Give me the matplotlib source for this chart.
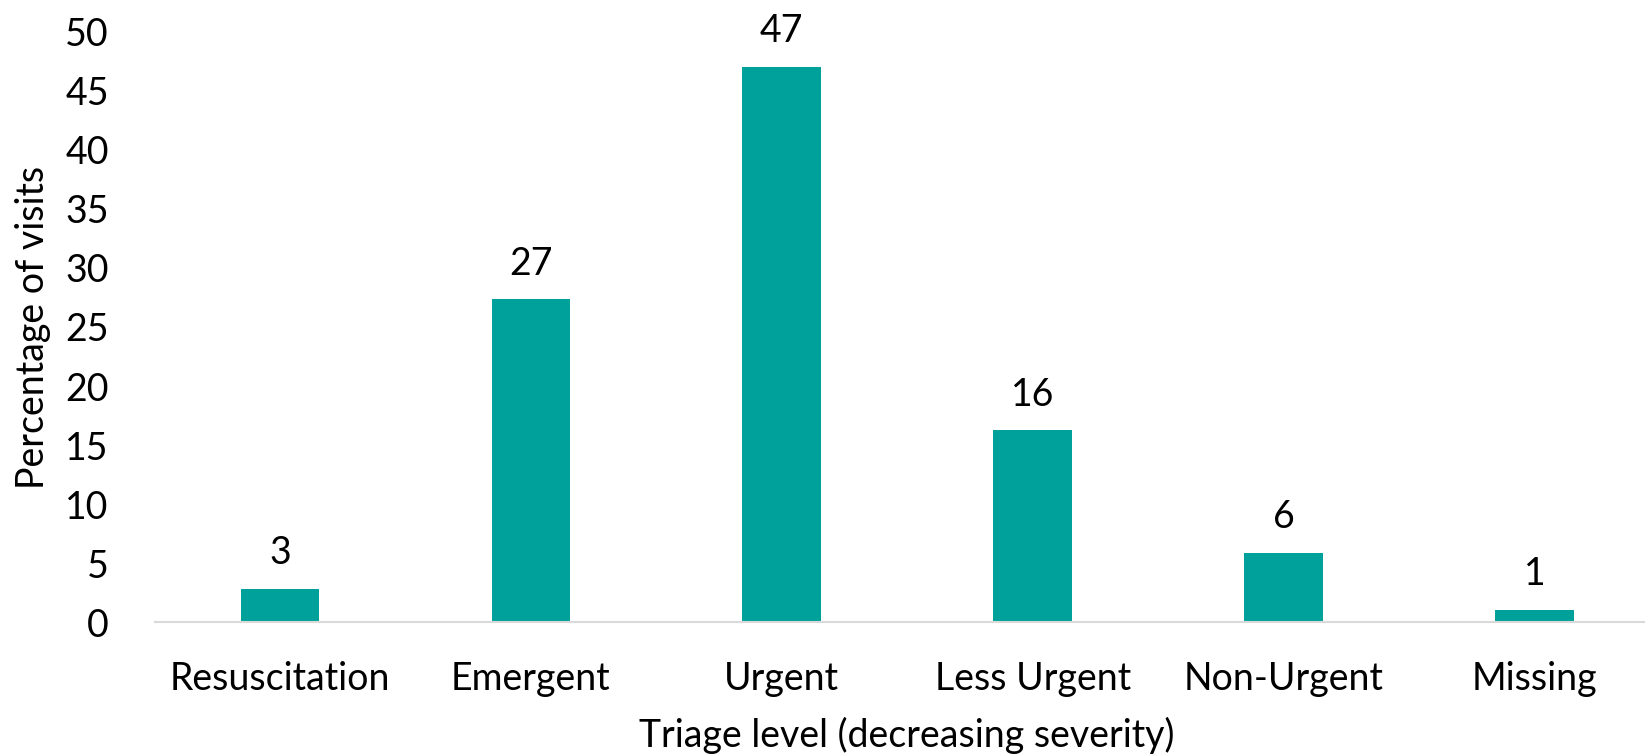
import matplotlib
matplotlib.use("Agg")
import matplotlib.pyplot as plt

# ── Data ──────────────────────────────────────────────────────────────────────
categories = ["Resuscitation", "Emergent", "Urgent", "Less Urgent", "Non-Urgent", "Missing"]
percent = [2.85, 27.35, 47.0, 16.25, 5.85, 1.07]
labels = ["3", "27", "47", "16", "6", "1"]
y_ticks = [0, 5, 10, 15, 20, 25, 30, 35, 40, 45, 50]

BAR_COLOR = "#00A19A"
FS = 27

plt.rcParams["font.family"] = ["Lato", "DejaVu Sans"]

fig = plt.figure(figsize=(16.45, 7.56), dpi=100)
ax = fig.add_axes([0.094, 0.177, 0.915, 0.781])

x = range(len(categories))
bars = ax.bar(x, percent, width=0.314, color=BAR_COLOR)

for bar, lab in zip(bars, labels):
    ax.text(bar.get_x() + bar.get_width() / 2, bar.get_height() + 1.5, lab,
            ha="center", va="bottom", fontsize=FS)

ax.set_xlim(-0.5, len(categories) - 0.5)
ax.set_ylim(0, 50)
ax.set_yticks(y_ticks)
ax.set_xticks(list(x))
ax.set_xticklabels(categories)
ax.tick_params(axis="both", length=0, labelsize=FS)
ax.tick_params(axis="x", pad=28)
ax.tick_params(axis="y", pad=33)

for side in ("top", "right", "left"):
    ax.spines[side].set_visible(False)
ax.spines["bottom"].set_color("#D9D9D9")
ax.spines["bottom"].set_linewidth(1.5)

ax.set_ylabel("Percentage of visits", fontsize=FS, labelpad=10)
ax.set_xlabel("Triage level (decreasing severity)", fontsize=FS, labelpad=14)

fig.savefig("out.png", dpi=100)
